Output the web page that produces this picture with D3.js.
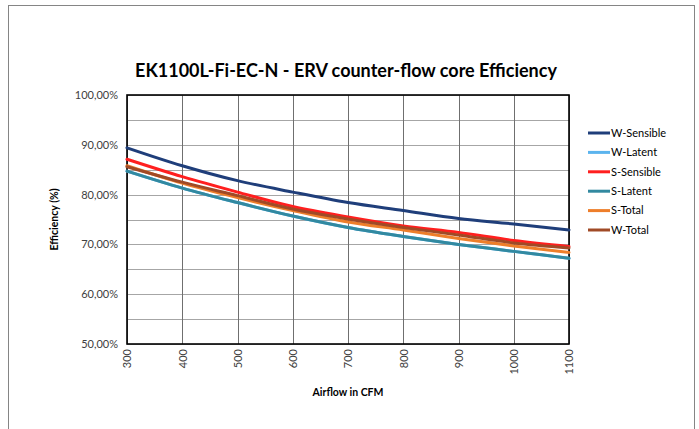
<!DOCTYPE html>
<html>
<head>
<meta charset="utf-8">
<script src="https://cdn.jsdelivr.net/npm/d3@7"></script>
<style>
  body { margin: 0; background: #fff; }
  svg text { font-family: Lato, "Open Sans", sans-serif; }
</style>
</head>
<body>
<div id="chart"></div>
<script>
// ------ DATA ------
const airflow = [300, 400, 500, 600, 700, 800, 900, 1000, 1100];
const wSensible = [89.4, 85.8, 82.8, 80.5, 78.4, 76.8, 75.2, 74.1, 72.9];
const wLatent   = [84.7, 81.3, 78.4, 75.7, 73.4, 71.6, 70.0, 68.6, 67.2];
const sSensible = [87.1, 83.6, 80.5, 77.6, 75.5, 73.7, 72.4, 70.8, 69.6];
const sLatent   = [84.7, 81.3, 78.4, 75.7, 73.4, 71.6, 70.0, 68.6, 67.2];
const sTotal    = [85.8, 82.3, 79.4, 76.8, 74.5, 72.9, 71.2, 69.7, 68.4];
const wTotal    = [85.6, 82.5, 79.8, 77.1, 75.1, 73.4, 71.9, 70.3, 69.3];
const yTicks = [50, 60, 70, 80, 90, 100];
const yGrid = [50, 55, 60, 65, 70, 75, 80, 85, 90, 95, 100];

const series = [
  {name: 'W-Sensible', values: wSensible, color: '#1F3E7A'},
  {name: 'W-Latent',   values: wLatent,   color: '#5BB4EE'},
  {name: 'S-Sensible', values: sSensible, color: '#FF1F1F'},
  {name: 'S-Latent',   values: sLatent,   color: '#3289A0'},
  {name: 'S-Total',    values: sTotal,    color: '#EE7E2A'},
  {name: 'W-Total',    values: wTotal,    color: '#A04A26'}
];

// ------ LAYOUT ------
const W = 699, H = 429;
const plot = {left: 127, right: 569, top: 95, bottom: 344};

const svg = d3.select('#chart').append('svg')
  .attr('width', W).attr('height', H);

// outer frame of the chart object
svg.append('rect')
  .attr('x', 8.5).attr('y', 5.5)
  .attr('width', 686).attr('height', 440)
  .attr('fill', '#fff').attr('stroke', '#858585').attr('stroke-width', 1);

const x = d3.scaleLinear().domain([300, 1100]).range([plot.left, plot.right]);
const y = d3.scaleLinear().domain([50, 100]).range([plot.bottom, plot.top]);

// gridlines
svg.append('g').selectAll('line.h')
  .data(yGrid)
  .join('line')
    .attr('x1', plot.left).attr('x2', plot.right)
    .attr('y1', d => Math.round(y(d)) + 0.5).attr('y2', d => Math.round(y(d)) + 0.5)
    .attr('stroke', '#a6a6a6').attr('stroke-width', 1);

svg.append('g').selectAll('line.v')
  .data(airflow)
  .join('line')
    .attr('y1', plot.top).attr('y2', plot.bottom)
    .attr('x1', d => Math.round(x(d)) + 0.5).attr('x2', d => Math.round(x(d)) + 0.5)
    .attr('stroke', '#6f6f6f').attr('stroke-width', 1);

// plot border
svg.append('rect')
  .attr('x', plot.left).attr('y', plot.top)
  .attr('width', plot.right - plot.left).attr('height', plot.bottom - plot.top)
  .attr('fill', 'none').attr('stroke', '#000').attr('stroke-width', 1.6);

// y axis labels
const yAxis = d3.axisLeft(y).tickValues(yTicks).tickSize(0).tickPadding(9)
  .tickFormat(d => d3.format('.2f')(d).replace('.', ',') + '%');
svg.append('g')
  .attr('transform', `translate(${plot.left},0)`)
  .call(yAxis)
  .call(g => g.select('.domain').remove())
  .selectAll('text')
    .attr('font-size', 11).attr('fill', '#404040')
    .style('font-family', 'Lato, sans-serif');

// x axis labels (rotated)
const xAxis = d3.axisBottom(x).tickValues(airflow).tickSize(0).tickFormat(d3.format('d'));
svg.append('g')
  .attr('transform', `translate(0,${plot.bottom})`)
  .call(xAxis)
  .call(g => g.select('.domain').remove())
  .selectAll('text')
    .attr('font-size', 11).attr('fill', '#404040')
    .style('font-family', 'Lato, sans-serif')
    .attr('text-anchor', 'end')
    .attr('dy', '0.35em')
    .attr('transform', 'translate(0,5) rotate(-90)')
    .attr('x', 0).attr('y', 0);

// lines
const line = d3.line()
  .x((d, i) => x(airflow[i]))
  .y(d => y(d))
  .curve(d3.curveMonotoneX);

svg.append('g').selectAll('path')
  .data(series)
  .join('path')
    .attr('fill', 'none')
    .attr('stroke', d => d.color)
    .attr('stroke-width', 3)
    .attr('stroke-linecap', 'round')
    .attr('d', d => line(d.values));

// title
svg.append('text')
  .attr('x', 346).attr('y', 77)
  .attr('text-anchor', 'middle')
  .attr('font-size', 18).attr('font-weight', 'bold').attr('fill', '#000')
  .text('EK1100L-Fi-EC-N - ERV counter-flow core Efficiency');

// axis titles
svg.append('text')
  .attr('transform', `translate(58,${(plot.top + plot.bottom) / 2}) rotate(-90)`)
  .attr('text-anchor', 'middle')
  .attr('font-size', 10.5).attr('font-weight', 'bold').attr('fill', '#000')
  .text('Efficiency (%)');

svg.append('text')
  .attr('x', (plot.left + plot.right) / 2).attr('y', 396)
  .attr('text-anchor', 'middle')
  .attr('font-size', 10.5).attr('font-weight', 'bold').attr('fill', '#000')
  .text('Airflow in CFM');

// legend
const legend = svg.append('g').attr('transform', 'translate(588,133)');
const rows = legend.selectAll('g')
  .data(series)
  .join('g')
    .attr('transform', (d, i) => `translate(0,${i * 19.4})`);
rows.append('line')
  .attr('x1', 0).attr('x2', 22)
  .attr('stroke', d => d.color).attr('stroke-width', 3);
rows.append('text')
  .attr('x', 23).attr('dy', '0.35em')
  .attr('font-size', 11).attr('fill', '#000')
  .text(d => d.name);
</script>
</body>
</html>
